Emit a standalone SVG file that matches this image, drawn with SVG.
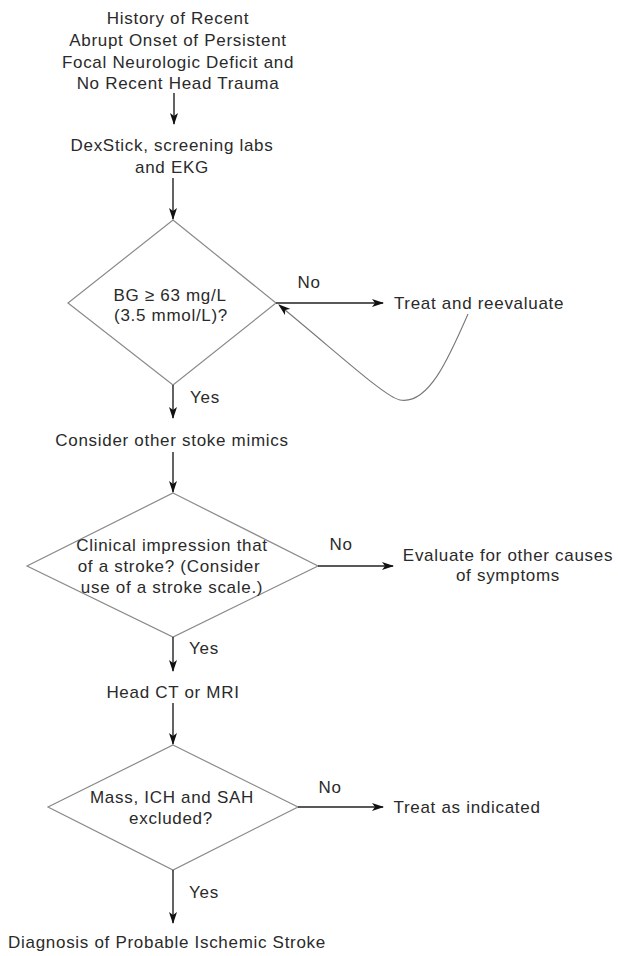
<svg xmlns="http://www.w3.org/2000/svg" width="618" height="956" viewBox="0 0 618 956">
<defs>
<marker id="ah" markerWidth="12" markerHeight="8" refX="11" refY="4" orient="auto" markerUnits="userSpaceOnUse">
<path d="M0,0 L12,4 L0,8 L3,4 Z" fill="#111"/>
</marker>
<style>
text{font-family:"Liberation Sans",Arial,sans-serif;font-size:17px;letter-spacing:0.7px;fill:#2a2a2a;text-anchor:middle}
.dia{fill:none;stroke:#8a8a8a;stroke-width:1.2}
.conn line,.conn path{stroke:#222;stroke-width:1.4;fill:none;marker-end:url(#ah)}
.conn path.curve{stroke:#777;stroke-width:1.1}
</style>
</defs>
<rect width="618" height="956" fill="#fff"/>
<g id="start">
<text x="178" y="24">History of Recent</text>
<text x="178" y="46">Abrupt Onset of Persistent</text>
<text x="178" y="68">Focal Neurologic Deficit and</text>
<text x="178" y="89">No Recent Head Trauma</text>
</g>
<g id="dexstick">
<text x="172" y="151">DexStick, screening labs</text>
<text x="172" y="173">and EKG</text>
</g>
<g id="bg-check">
<polygon class="dia" points="173,220 276,303 173,385 68,303"/>
<text x="170" y="301">BG ≥ 63 mg/L</text>
<text x="171" y="321">(3.5 mmol/L)?</text>
</g>
<g id="treat-reeval">
<text x="479" y="309">Treat and reevaluate</text>
</g>
<g id="mimics">
<text x="172" y="446">Consider other stoke mimics</text>
</g>
<g id="clinical">
<polygon class="dia" points="173,493 318,566 173,637 27,566"/>
<text x="172" y="551">Clinical impression that</text>
<text x="169" y="572">of a stroke? (Consider</text>
<text x="172" y="593">use of a stroke scale.)</text>
</g>
<g id="evaluate">
<text x="508" y="561">Evaluate for other causes</text>
<text x="508" y="581">of symptoms</text>
</g>
<g id="imaging">
<text x="173" y="698">Head CT or MRI</text>
</g>
<g id="exclusion">
<polygon class="dia" points="173,745 298,807 173,870 48,807"/>
<text x="172" y="803">Mass, ICH and SAH</text>
<text x="171" y="824">excluded?</text>
</g>
<g id="treat-indicated">
<text x="467" y="813">Treat as indicated</text>
</g>
<g id="diagnosis">
<text x="167" y="948">Diagnosis of Probable Ischemic Stroke</text>
</g>
<g class="conn" id="connectors">
<line x1="174" y1="93" x2="174" y2="124"/>
<line x1="173" y1="178" x2="173" y2="219"/>
<line x1="276" y1="303" x2="383" y2="303"/>
<path class="curve" d="M468,314 C448,360 428,405 400,400 C385,397 340,355 279,305"/>
<line x1="173" y1="385" x2="173" y2="418"/>
<line x1="173" y1="452" x2="173" y2="492"/>
<line x1="318" y1="566" x2="393" y2="566"/>
<line x1="173" y1="637" x2="173" y2="671"/>
<line x1="173" y1="703" x2="173" y2="744"/>
<line x1="298" y1="807" x2="383" y2="807"/>
<line x1="173" y1="870" x2="173" y2="923"/>
</g>
<g id="labels">
<text x="309" y="288">No</text>
<text x="205" y="403">Yes</text>
<text x="341" y="550">No</text>
<text x="204" y="654">Yes</text>
<text x="330" y="793">No</text>
<text x="204" y="898">Yes</text>
</g>
</svg>
